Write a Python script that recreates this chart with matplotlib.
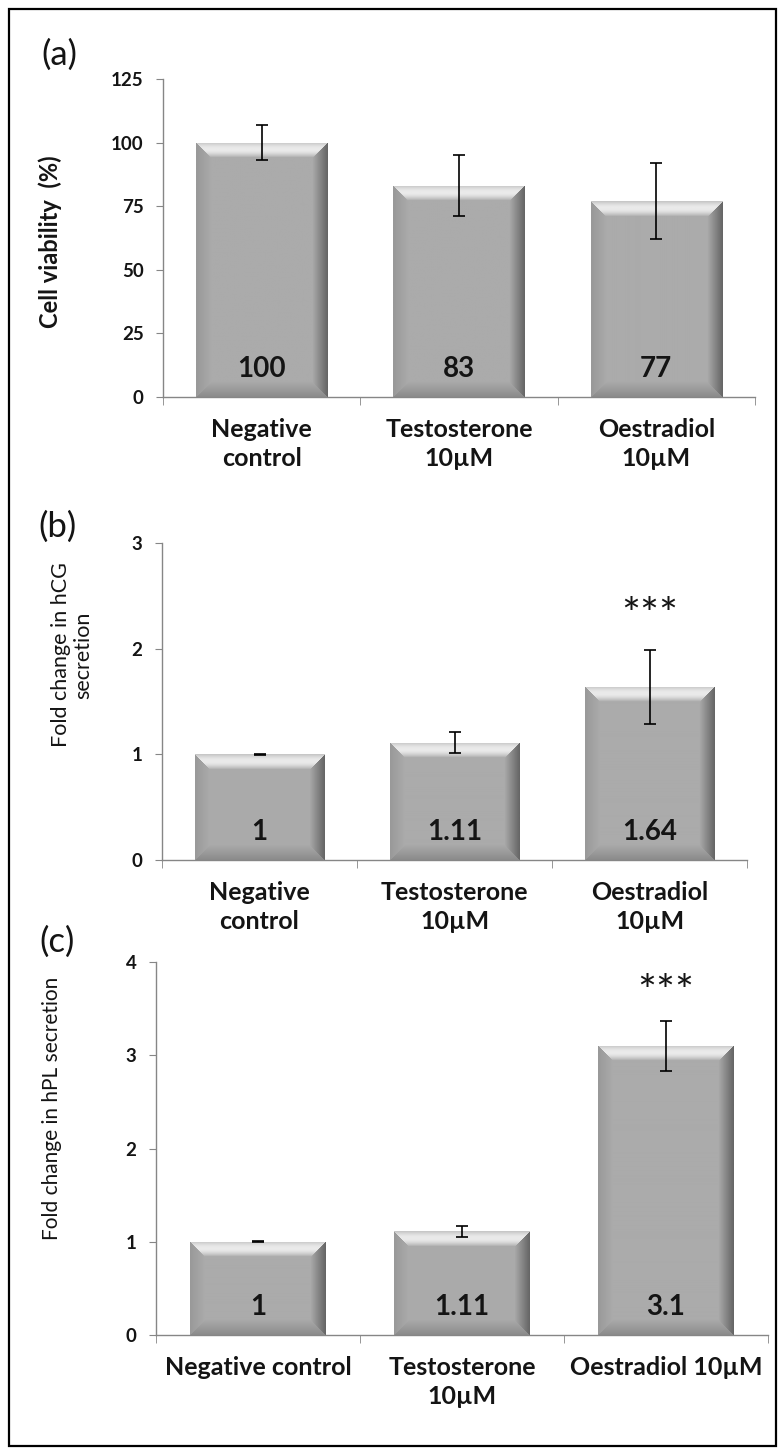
import numpy as np
import matplotlib
matplotlib.use("Agg")
import matplotlib.pyplot as plt
from matplotlib.patches import Rectangle

plt.rcParams['font.family'] = ['Lato', 'DejaVu Sans']

# data
categories_ab = ["Negative\ncontrol", "Testosterone\n10µM", "Oestradiol\n10µM"]
categories_c = ["Negative control", "Testosterone\n10µM", "Oestradiol 10µM"]

viability = [100, 83, 77]
viability_err = [7, 12, 15]
viability_lbl = ["100", "83", "77"]

hcg = [1, 1.11, 1.64]
hcg_err = [0.005, 0.1, 0.35]
hcg_lbl = ["1", "1.11", "1.64"]

hpl = [1, 1.11, 3.1]
hpl_err = [0.005, 0.06, 0.27]
hpl_lbl = ["1", "1.11", "3.1"]

W_PX, H_PX = 784, 1454
DPI = 100
AXIS_GREY = "#868686"
TXT = "#141414"
FACE = 0.67


def make_bevel(w, h, b=15):
    i = np.arange(h)[:, None] + np.zeros((1, w))
    j = np.arange(w)[None, :] + np.zeros((h, 1))
    dist = np.stack([i, j, w - 1 - j, h - 1 - i])
    m = dist.min(0)
    which = dist.argmin(0)
    t = np.clip(m / b, 0, 1)
    val = np.full((h, w), FACE)
    top = FACE + 0.11 * (1 - t) + 0.19 * np.sin(np.pi * t)
    left = 0.60 + (FACE - 0.60) * t
    right = 0.40 + (FACE - 0.40) * t
    bottom = 0.55 + (FACE - 0.55) * t
    inb = m < b
    for k, arr in enumerate([top, left, right, bottom]):
        sel = inb & (which == k)
        val[sel] = arr[sel]
    return val


def bevel_bars(ax, vals, width):
    pos = ax.get_position()
    axw = pos.width * W_PX
    axh = pos.height * H_PX
    x0, x1 = ax.get_xlim()
    y0, y1 = ax.get_ylim()
    xs = np.arange(len(vals))
    rects = ax.bar(xs, vals, width, color=str(FACE), zorder=2)
    for x, v, r in zip(xs, vals, rects):
        wpx = max(int(round(width / (x1 - x0) * axw)), 2)
        hpx = max(int(round(v / (y1 - y0) * axh)), 2)
        img = make_bevel(wpx, hpx)
        im = ax.imshow(img, extent=(x - width / 2, x + width / 2, 0, v),
                       aspect='auto', interpolation='bilinear', cmap='gray',
                       vmin=0, vmax=1, zorder=2.1)
        im.set_clip_path(r)
    return xs


def panel(rect_px, vals, errs, lbls, cats, ymax, ystep):
    left, right, top, bottom = rect_px
    ax = fig.add_axes([left / W_PX, 1 - bottom / H_PX,
                       (right - left) / W_PX, (bottom - top) / H_PX])
    ax.set_xlim(-0.5, len(vals) - 0.5)
    ax.set_ylim(0, ymax)
    xs = bevel_bars(ax, vals, 0.665)
    ax.errorbar(xs, vals, yerr=errs, fmt='none', ecolor='black',
                elinewidth=1.2, capsize=4, capthick=1.2, zorder=3)
    for x, lbl in zip(xs, lbls):
        ax.annotate(lbl, (x, 0), xytext=(0, 20), textcoords='offset points',
                    ha='center', va='center', fontsize=20, fontweight='bold',
                    color=TXT, zorder=4)
    ax.set_xlim(-0.5, len(vals) - 0.5)
    ax.set_ylim(0, ymax)
    for s in ['top', 'right']:
        ax.spines[s].set_visible(False)
    for s in ['left', 'bottom']:
        ax.spines[s].set_color(AXIS_GREY)
        ax.spines[s].set_linewidth(1.0)
    yt = np.arange(0, ymax + ystep / 2, ystep)
    ax.set_yticks(yt)
    ax.set_yticklabels([f"{int(v)}" for v in yt], fontsize=13.5,
                       fontweight='bold', color=TXT)
    ax.set_xticks(xs)
    ax.set_xticklabels(cats, fontsize=18, fontweight='bold', linespacing=1.3,
                       color=TXT)
    ax.set_xticks(np.arange(-0.5, len(vals)), minor=True)
    ax.tick_params(axis='x', which='major', length=0, pad=15)
    ax.tick_params(axis='x', which='minor', length=6, color=AXIS_GREY, direction='out')
    ax.tick_params(axis='y', length=5, color=AXIS_GREY, direction='out', pad=9)
    ax.set_facecolor('none')
    return ax


fig = plt.figure(figsize=(W_PX / DPI, H_PX / DPI), dpi=DPI)

ax_a = panel((163, 755, 79, 397), viability, viability_err, viability_lbl,
             categories_ab, 125, 25)
ax_b = panel((162, 747, 543, 860), hcg, hcg_err, hcg_lbl,
             categories_ab, 3, 1)
ax_c = panel((156, 768, 962, 1335), hpl, hpl_err, hpl_lbl,
             categories_c, 4, 1)

# significance stars
ax_b.text(2, 2.30, "***", ha='center', va='center', fontsize=32, color=TXT)
ax_c.text(2, 3.66, "***", ha='center', va='center', fontsize=32, color=TXT)

# panel letters
for lbl, (x, y) in zip(["(a)", "(b)", "(c)"], [(59, 55), (58, 527), (57, 942)]):
    fig.text(x / W_PX, 1 - y / H_PX, lbl, ha='center', va='center',
             fontsize=25, color=TXT)

# y axis titles
fig.text(50 / W_PX, 1 - 242 / H_PX, "Cell viability  (%)", rotation=90,
         ha='center', va='center', fontsize=17, fontweight='bold', color=TXT)
fig.text(72 / W_PX, 1 - 655 / H_PX, "Fold change in hCG\nsecretion", rotation=90,
         ha='center', va='center', fontsize=15.5, multialignment='center',
         linespacing=1.1, color=TXT)
fig.text(52 / W_PX, 1 - 1108 / H_PX, "Fold change in hPL secretion", rotation=90,
         ha='center', va='center', fontsize=15, color=TXT)

# outer frame
fig.patches.append(Rectangle((9 / W_PX, 1 - 1446 / H_PX), 767 / W_PX, 1437 / H_PX,
                             transform=fig.transFigure, fill=False,
                             edgecolor='black', linewidth=1.6, zorder=10))

fig.savefig("out.png", dpi=DPI)
